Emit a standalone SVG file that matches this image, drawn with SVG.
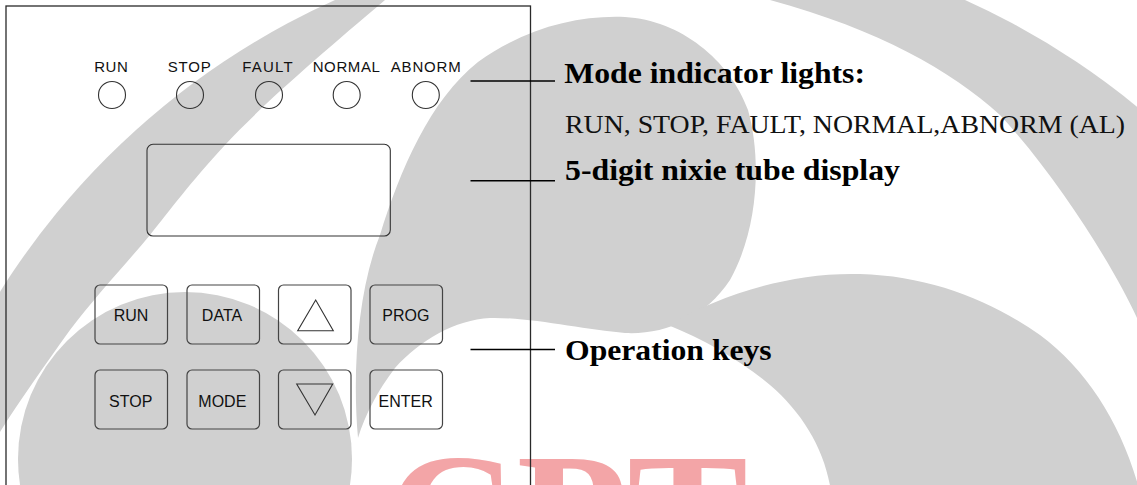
<svg xmlns="http://www.w3.org/2000/svg" width="1137" height="485" viewBox="0 0 1137 485">
<style>
.wm{fill:#d0d0d0}
.bg{fill:#fff}
.cpt{fill:#f3a5a7;font-family:"Liberation Serif","Times New Roman",serif;font-weight:bold;font-size:175px}
.panel{fill:none;stroke:#2a2a2a;stroke-width:1.3}
.led{fill:none;stroke:#333;stroke-width:1.1}
.key{fill:none;stroke:#444;stroke-width:1.2}
.tri{fill:none;stroke:#333;stroke-width:1.1}
.lbl{font-family:"Liberation Sans",Arial,sans-serif;font-size:15px;fill:#111;text-anchor:middle}
.klbl{font-family:"Liberation Sans",Arial,sans-serif;font-size:16px;fill:#111;text-anchor:middle}
.conn{stroke:#000;stroke-width:1.6;fill:none}
.h{font-family:"Liberation Serif","Times New Roman",serif;font-weight:bold;font-size:29px;fill:#000}
.sub{font-family:"Liberation Serif","Times New Roman",serif;font-size:26px;fill:#111}
</style>
<g id="watermark">
<rect width="1137" height="485" fill="#fff"/>
<circle class="wm" cx="650" cy="700" r="767.6"/>
<path class="bg" d="M385,-5 L385,0 C320,55 262,105 225,145 C190,183 170,210 150,235 C125,265 95,297 70,330 C45,365 20,400 0,432 L-5,432 L-5,490 L1142,490 L1142,318 L1137,318 C1115,270 1060,180 1000,115 C950,70 880,30 770,0 L770,-5 Z"/>
<path class="wm" d="M358,438 C352,370 358,290 380,235 C400,170 430,100 478,62 C525,28 578,15 625,17 C680,20 730,60 748,110 C762,160 758,230 730,280 C705,318 665,335 625,333 C585,330 530,317 490,318 C455,320 420,340 395,368 C378,390 365,415 358,438 Z"/>
<circle class="wm" cx="185" cy="459" r="167"/>
<path class="wm" d="M668,325 C720,295 790,272 860,274 C930,276 990,300 1040,335 C1090,372 1125,430 1142,500 L832,500 C828,455 805,415 770,385 C740,360 705,340 668,325 Z"/>
<text class="cpt" x="386" y="574" textLength="362" lengthAdjust="spacingAndGlyphs">CPT</text>
</g>
<g id="panel"><rect class="panel" x="6" y="6" width="524.5" height="500"/></g>
<g id="led-run"><text class="lbl" x="111" y="72" textLength="33.7">RUN</text><circle class="led" cx="112" cy="95" r="13.5"/></g>
<g id="led-stop"><text class="lbl" x="189.2" y="72" textLength="43">STOP</text><circle class="led" cx="190" cy="95" r="13.5"/></g>
<g id="led-fault"><text class="lbl" x="267.5" y="72" textLength="50.4">FAULT</text><circle class="led" cx="269" cy="95" r="13.5"/></g>
<g id="led-normal"><text class="lbl" x="346.3" y="72" textLength="67.3">NORMAL</text><circle class="led" cx="346.7" cy="95" r="13.5"/></g>
<g id="led-abnorm"><text class="lbl" x="425.7" y="72" textLength="70">ABNORM</text><circle class="led" cx="425.8" cy="95" r="13.5"/></g>
<g id="display"><rect class="led" x="147" y="144.3" width="243.3" height="91.7" rx="6"/></g>
<g id="key-run"><rect class="key" x="95" y="285" width="72.5" height="59" rx="5"/><text class="klbl" x="131" y="321">RUN</text></g>
<g id="key-data"><rect class="key" x="187" y="285" width="72.5" height="59" rx="5"/><text class="klbl" x="222" y="321">DATA</text></g>
<g id="key-up"><rect class="key" x="278.5" y="285" width="72.5" height="59" rx="5"/><polygon class="tri" points="315.7,300 297.7,330.7 333.3,330.7"/></g>
<g id="key-prog"><rect class="key" x="370" y="285" width="72.5" height="59" rx="5"/><text class="klbl" x="405.8" y="321">PROG</text></g>
<g id="key-stop"><rect class="key" x="95" y="370" width="72.5" height="59" rx="5"/><text class="klbl" x="130.7" y="406.5">STOP</text></g>
<g id="key-mode"><rect class="key" x="187" y="370" width="72.5" height="59" rx="5"/><text class="klbl" x="222.3" y="406.5">MODE</text></g>
<g id="key-down"><rect class="key" x="278.5" y="370" width="72.5" height="59" rx="5"/><polygon class="tri" points="296.7,384 332.7,384 315,415"/></g>
<g id="key-enter"><rect class="key" x="370" y="370" width="72.5" height="59" rx="5"/><text class="klbl" x="405.6" y="406.5">ENTER</text></g>
<g id="connectors">
<line class="conn" x1="470.5" y1="81" x2="555" y2="81"/>
<line class="conn" x1="470.5" y1="180.7" x2="555" y2="180.7"/>
<line class="conn" x1="470.5" y1="349.5" x2="555" y2="349.5"/>
</g>
<g id="label-lights">
<text class="h" x="564.3" y="82.5" textLength="300.7" lengthAdjust="spacingAndGlyphs">Mode indicator lights:</text>
<text class="sub" x="565" y="132.7" textLength="560" lengthAdjust="spacingAndGlyphs">RUN, STOP, FAULT, NORMAL,ABNORM (AL)</text>
</g>
<g id="label-display"><text class="h" x="565" y="180" textLength="335" lengthAdjust="spacingAndGlyphs">5-digit nixie tube display</text></g>
<g id="label-keys"><text class="h" x="565" y="360" textLength="206.7" lengthAdjust="spacingAndGlyphs">Operation keys</text></g>
</svg>
